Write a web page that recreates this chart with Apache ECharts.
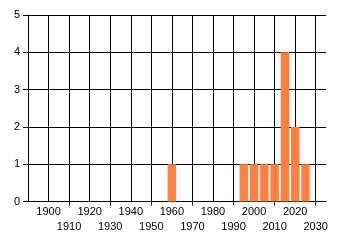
<!DOCTYPE html>
<html>
<head>
<meta charset="utf-8">
<script src="https://cdn.jsdelivr.net/npm/echarts@6/dist/echarts.min.js"></script>
<style>html,body{margin:0;padding:0;background:#fff}#c{width:340px;height:245px}</style>
</head>
<body>
<div id="c"></div>
<script>
var years = [1960, 1995, 2000, 2005, 2010, 2015, 2020, 2025];
var counts = [1, 1, 1, 1, 1, 4, 2, 1];
var xLabels = [1900, 1910, 1920, 1930, 1940, 1950, 1960, 1970, 1980, 1990, 2000, 2010, 2020, 2030];
var xTickMarks = [1910, 1930, 1950, 1970, 1990, 2010, 2030];

var chart = echarts.init(document.getElementById('c'));
var font = 'Liberation Sans, Arial, sans-serif';
chart.setOption({
  animation: false,
  grid: {left: 28, right: 14, top: 15, bottom: 43.5},
  xAxis: [{
    type: 'value', min: 1890, max: 2035, interval: 10,
    axisLine: {show: true, lineStyle: {color: '#000', width: 1}},
    axisTick: {show: false},
    splitLine: {show: true, showMinLine: false, showMaxLine: false, lineStyle: {color: '#000', width: 1}},
    axisLabel: {
      showMinLabel: true, showMaxLabel: true, hideOverlap: false,
      margin: 3, color: '#000', fontFamily: font, fontSize: 11, lineHeight: 15,
      formatter: function (v) {
        if (xLabels.indexOf(v) < 0) return '';
        return (v / 10) % 2 === 1 ? '\n' + v : '' + v;
      }
    }
  }, {
    type: 'value', min: 1890, max: 2035, position: 'bottom',
    axisLine: {show: false},
    axisTick: {show: true, length: 4, customValues: xTickMarks, lineStyle: {color: '#000'}},
    splitLine: {show: false},
    axisLabel: {show: false}
  }],
  yAxis: {
    type: 'value', min: 0, max: 5, interval: 1,
    axisLine: {show: true, lineStyle: {color: '#000', width: 1}},
    axisTick: {show: true, length: 5, lineStyle: {color: '#000'}},
    splitLine: {show: true, lineStyle: {color: '#000', width: 1}},
    axisLabel: {margin: 8, color: '#000', fontFamily: font, fontSize: 11}
  },
  series: [{
    type: 'bar', barWidth: 8.5, xAxisIndex: 0,
    itemStyle: {color: '#ff8040'},
    data: years.map(function (y, i) { return [y, counts[i]]; })
  }]
});
</script>
</body>
</html>
